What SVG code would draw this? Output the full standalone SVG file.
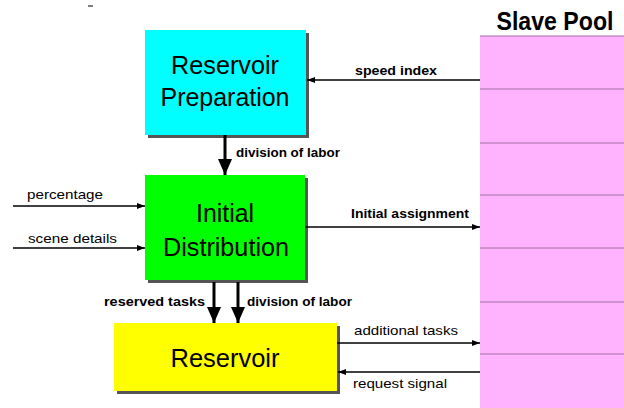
<svg xmlns="http://www.w3.org/2000/svg" width="624" height="408" viewBox="0 0 624 408">
<style>
.shadow{fill:#555}
.big{font-family:"Liberation Sans",Arial,sans-serif;font-size:26px;fill:#000;text-anchor:middle}
.lb{font-family:"Liberation Sans",Arial,sans-serif;font-size:12px;font-weight:bold;fill:#000}
.ln{font-family:"Liberation Sans",Arial,sans-serif;font-size:13px;fill:#000}
.thin{stroke:#000;stroke-width:1.3;fill:none}
.thick{stroke:#000;stroke-width:3;fill:none}
.pl{stroke:#a070a0;stroke-width:1}
</style>
<defs>
<marker id="ah" markerWidth="8" markerHeight="6" refX="8" refY="3" orient="auto" markerUnits="userSpaceOnUse">
<path d="M0,0 L8,3 L0,6 Z" fill="#000"/>
</marker>
<marker id="ahb" markerWidth="14" markerHeight="16" refX="16" refY="7" orient="auto" markerUnits="userSpaceOnUse">
<path d="M0,0 L16,7 L0,14 Z" fill="#000"/>
</marker>
</defs>
<rect width="624" height="408" fill="#fff"/>
<line x1="88" y1="6" x2="93" y2="6" stroke="#000" stroke-width="1"/>

<g id="slave-pool">
<rect x="480" y="36" width="144" height="372" fill="#ffb3ff"/>
<line class="pl" x1="480" y1="36" x2="624" y2="36"/>
<line class="pl" x1="480" y1="89" x2="624" y2="89"/>
<line class="pl" x1="480" y1="143" x2="624" y2="143"/>
<line class="pl" x1="480" y1="195" x2="624" y2="195"/>
<line class="pl" x1="480" y1="248" x2="624" y2="248"/>
<line class="pl" x1="480" y1="302" x2="624" y2="302"/>
<line class="pl" x1="480" y1="354" x2="624" y2="354"/>
<text x="555" y="30" font-family="Liberation Sans,Arial,sans-serif" font-size="23" font-weight="bold" text-anchor="middle" textLength="117" lengthAdjust="spacingAndGlyphs" transform="translate(555 30) scale(1 1.15) translate(-555 -30)">Slave Pool</text>
</g>

<g id="reservoir-preparation">
<rect class="shadow" x="148" y="33" width="161" height="105"/>
<rect x="145" y="30" width="161" height="105" fill="#00ffff"/>
<text class="big" x="225" y="74" textLength="108" lengthAdjust="spacingAndGlyphs">Reservoir</text>
<text class="big" x="225" y="106" textLength="129" lengthAdjust="spacingAndGlyphs">Preparation</text>
</g>

<g id="initial-distribution">
<rect class="shadow" x="148" y="178" width="160" height="105"/>
<rect x="145" y="175" width="160" height="105" fill="#00ff00"/>
<text class="big" x="225" y="222" textLength="58" lengthAdjust="spacingAndGlyphs">Initial</text>
<text class="big" x="226" y="256" textLength="126" lengthAdjust="spacingAndGlyphs">Distribution</text>
</g>

<g id="reservoir">
<rect class="shadow" x="117" y="326" width="223" height="68"/>
<rect x="114" y="323" width="223" height="68" fill="#ffff00"/>
<text class="big" x="225" y="367" textLength="109" lengthAdjust="spacingAndGlyphs">Reservoir</text>
</g>

<g id="connectors">
<line class="thin" x1="480" y1="80" x2="307" y2="80" marker-end="url(#ah)"/>
<line class="thick" x1="225" y1="135" x2="225" y2="175" marker-end="url(#ahb)"/>
<line class="thin" x1="13" y1="206" x2="145" y2="206" marker-end="url(#ah)"/>
<line class="thin" x1="13" y1="248" x2="145" y2="248" marker-end="url(#ah)"/>
<line class="thin" x1="305" y1="227" x2="480" y2="227" marker-end="url(#ah)"/>
<line class="thick" x1="214" y1="282" x2="214" y2="323" marker-end="url(#ahb)"/>
<line class="thick" x1="238" y1="282" x2="238" y2="323" marker-end="url(#ahb)"/>
<line class="thin" x1="337" y1="343" x2="480" y2="343" marker-end="url(#ah)"/>
<line class="thin" x1="480" y1="372" x2="338" y2="372" marker-end="url(#ah)"/>
</g>

<g id="labels">
<text class="lb" x="355" y="75" textLength="82" lengthAdjust="spacingAndGlyphs">speed index</text>
<text class="lb" x="236" y="157" textLength="104" lengthAdjust="spacingAndGlyphs">division of labor</text>
<text class="ln" x="27" y="199" textLength="76" lengthAdjust="spacingAndGlyphs">percentage</text>
<text class="ln" x="28" y="243" textLength="89" lengthAdjust="spacingAndGlyphs">scene details</text>
<text class="lb" x="351" y="218" textLength="118" lengthAdjust="spacingAndGlyphs">Initial assignment</text>
<text class="lb" x="104" y="306" textLength="101" lengthAdjust="spacingAndGlyphs">reserved tasks</text>
<text class="lb" x="247" y="306" textLength="105" lengthAdjust="spacingAndGlyphs">division of labor</text>
<text class="ln" x="354" y="335" textLength="104" lengthAdjust="spacingAndGlyphs">additional tasks</text>
<text class="ln" x="353" y="388" textLength="94" lengthAdjust="spacingAndGlyphs">request signal</text>
</g>
</svg>
